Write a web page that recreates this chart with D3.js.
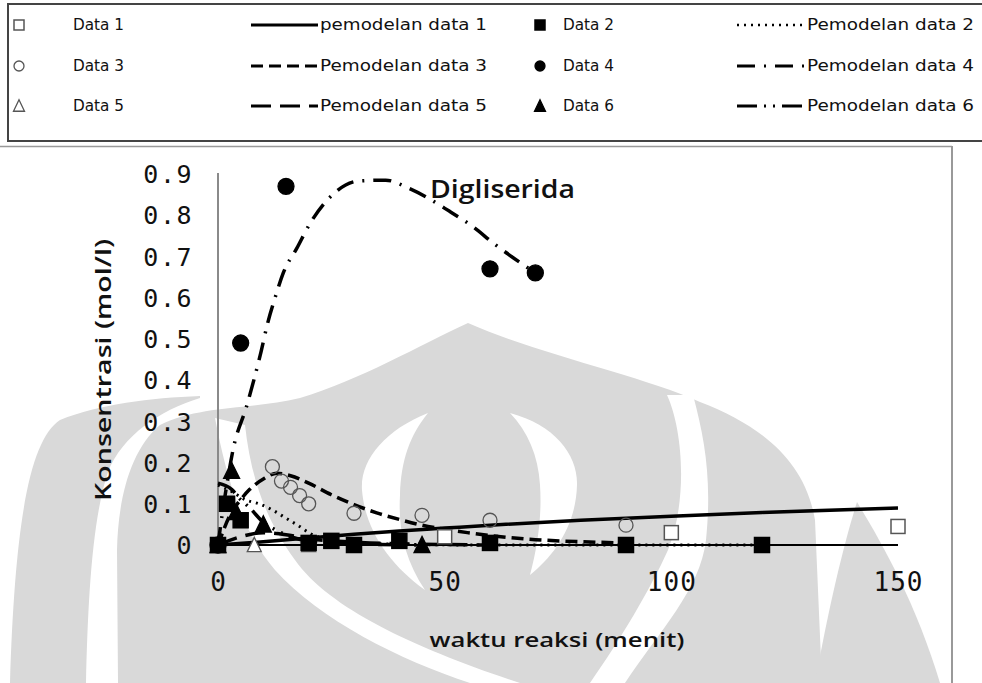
<!DOCTYPE html>
<html><head><meta charset="utf-8">
<script src="https://cdn.jsdelivr.net/npm/d3@7"></script>
<style>
html,body{margin:0;padding:0;background:#fff;}
svg{display:block;}
</style></head>
<body>
<script>
// ---------- DATA ----------
const data1T = [0, 50, 100, 150];
const data1V = [0, 0.02, 0.03, 0.045];
const data2T = [0, 2, 5, 20, 25, 30, 40, 60, 90, 120];
const data2V = [0, 0.1, 0.06, 0.005, 0.01, 0, 0.01, 0.005, 0, 0];
const data3T = [12, 14, 16, 18, 20, 30, 45, 60, 90];
const data3V = [0.19, 0.155, 0.14, 0.12, 0.1, 0.077, 0.072, 0.06, 0.048];
const data4T = [0, 5, 15, 60, 70];
const data4V = [0, 0.49, 0.87, 0.67, 0.66];
const data5T = [0, 8, 20];
const data5V = [0, 0, 0];
const data6T = [0, 3, 4, 10, 45];
const data6V = [0, 0.18, 0.08, 0.05, 0];

const model1T = [0, 10, 20, 30, 40, 50, 60, 80, 100, 120, 150];
const model1V = [0, 0.008, 0.017, 0.026, 0.034, 0.041, 0.048, 0.06, 0.07, 0.079, 0.09];
const model2T = [0, 3, 6, 9, 12, 15, 18, 20, 25, 30, 40, 60, 120];
const model2V = [0.145, 0.13, 0.11, 0.1, 0.085, 0.065, 0.045, 0.03, 0.012, 0.005, 0.002, 0, 0];
const model3T = [0, 3, 5, 7, 10, 13, 16, 20, 25, 30, 35, 40, 45, 50, 55, 60, 70, 80, 90];
const model3V = [0, 0.08, 0.11, 0.135, 0.16, 0.174, 0.168, 0.15, 0.122, 0.098, 0.078, 0.062, 0.048, 0.038, 0.03, 0.023, 0.013, 0.008, 0.005];
const model4T = [0, 1, 2, 3.3, 6.4, 9.3, 11, 12.6, 14.4, 17.4, 20.3, 25, 31, 37, 42, 51, 56, 61, 70];
const model4V = [0, 0.08, 0.15, 0.23, 0.34, 0.46, 0.54, 0.6, 0.66, 0.72, 0.78, 0.847, 0.883, 0.885, 0.866, 0.81, 0.774, 0.73, 0.66];
const model5T = [0, 5, 10, 15, 20, 30, 45, 60];
const model5V = [0, 0.02, 0.03, 0.025, 0.015, 0.007, 0.002, 0];
const model6T = [0, 3, 5, 7, 10, 13, 16, 20, 30, 45];
const model6V = [0.15, 0.135, 0.11, 0.09, 0.055, 0.035, 0.02, 0.01, 0.003, 0];

const xTicks = [0, 50, 100, 150];
const yTicks = [0, 0.1, 0.2, 0.3, 0.4, 0.5, 0.6, 0.7, 0.8, 0.9];
const legendLabels = ["Data 1", "pemodelan data  1", "Data 2", "Pemodelan data  2",
                      "Data 3", "Pemodelan data  3", "Data 4", "Pemodelan data  4",
                      "Data 5", "Pemodelan data  5", "Data 6", "Pemodelan data  6"];
const annotation = "Digliserida";
const xTitle = "waktu reaksi (menit)";
const yTitle = "Konsentrasi (mol/l)";

// ---------- STYLES ----------
const markerStyle = {
  d1: {type: "square", fill: "#fff", stroke: "#555", size: 14},
  d2: {type: "square", fill: "#000", stroke: "#000", size: 15},
  d3: {type: "circle", fill: "none", stroke: "#555", size: 7},
  d4: {type: "circle", fill: "#000", stroke: "#000", size: 8},
  d5: {type: "triangle", fill: "#fff", stroke: "#555", size: 14},
  d6: {type: "triangle", fill: "#000", stroke: "#000", size: 16}
};
const lineStyle = {
  m1: {width: 3.5, dash: null},
  m2: {width: 3, dash: "2,5"},
  m3: {width: 3.5, dash: "12,6"},
  m4: {width: 3.5, dash: "18,9,2,9"},
  m5: {width: 3.5, dash: "20,9"},
  m6: {width: 3.5, dash: "20,7,2,7,2,7"}
};

const W = 982, H = 683;
const svg = d3.select("body").append("svg").attr("width", W).attr("height", H);

// ---------- watermark ----------
const wm = svg.append("g").attr("fill", "#d9d9d9");
wm.append("path").attr("d", "M200,396 C150,398 100,404 60,420 C30,440 15,520 10,683 L86,683 C88,600 92,520 108,472 C122,436 160,410 200,398 Z");
wm.append("path").attr("d", "M118,683 L117,550 C118,500 130,450 160,425 C200,405 250,410 300,398 C360,380 420,345 468,323 C540,355 640,375 700,402 C760,425 805,460 815,520 L822,683 Z");
const wmw = svg.append("g").attr("fill", "#fff");
wmw.append("path").attr("d", "M215,418 C225,470 240,530 275,570 C320,620 400,660 470,683 L520,683 C420,650 330,610 295,560 C262,515 250,470 245,425 Z");
wmw.append("path").attr("d", "M428,413 C385,430 360,460 362,490 C365,530 390,565 425,590 C405,560 398,530 400,495 C401,460 410,435 428,413 Z");
wmw.append("path").attr("d", "M510,413 C555,425 578,455 577,485 C576,525 555,555 530,575 C538,545 542,515 540,485 C538,455 528,432 510,413 Z");
wmw.append("path").attr("d", "M667,395 C683,430 688,500 668,550 C650,590 620,640 590,683 L625,683 C660,630 700,590 706,540 C712,480 705,440 693,395 Z");
wm.append("path").attr("d", "M857,502 C845,540 830,600 815,683 L940,683 C915,600 880,540 857,502 Z");

// ---------- scales ----------
const x = d3.scaleLinear().domain([0, 150]).range([218, 898]);
const y = d3.scaleLinear().domain([0, 0.9]).range([545, 174]);

svg.append("line").attr("x1", 0).attr("x2", 952).attr("y1", 146.5).attr("y2", 146.5).attr("stroke", "#999").attr("stroke-width", 1.5);
svg.append("line").attr("x1", 952).attr("x2", 952).attr("y1", 146).attr("y2", H).attr("stroke", "#999").attr("stroke-width", 2);

const yAxis = d3.axisLeft(y).tickValues(yTicks).tickSize(0).tickPadding(0)
  .tickFormat(d => d === 0 ? "0" : d3.format(".1f")(d));
const gy = svg.append("g").attr("transform", "translate(193,0)").call(yAxis);
gy.select(".domain").remove();
gy.selectAll("text").attr("font-family", "DejaVu Sans Mono").attr("font-size", 25)
  .attr("fill", "#111").attr("letter-spacing", 1.5).attr("dy", "0.35em");

const xAxis = d3.axisBottom(x).tickValues(xTicks).tickSize(0).tickPadding(0).tickFormat(d3.format("d"));
const gx = svg.append("g").attr("transform", "translate(0,582)").call(xAxis);
gx.select(".domain").remove();
gx.selectAll("text").attr("font-family", "DejaVu Sans Mono").attr("font-size", 26)
  .attr("fill", "#111").attr("letter-spacing", 1).attr("dy", "0.35em");

svg.append("line").attr("x1", x(0)).attr("x2", x(0)).attr("y1", y(0.9) - 1).attr("y2", y(0))
  .attr("stroke", "#8a8a8a").attr("stroke-width", 2);

svg.append("text").attr("x", 557).attr("y", 647).attr("text-anchor", "middle")
  .attr("font-family", "Open Sans").attr("font-weight", 600).attr("font-size", 20)
  .attr("fill", "#111").attr("textLength", 255).attr("lengthAdjust", "spacingAndGlyphs").text(xTitle);
svg.append("text").attr("transform", "translate(111,370) rotate(-90)").attr("text-anchor", "middle")
  .attr("font-family", "Open Sans").attr("font-weight", 600).attr("font-size", 21)
  .attr("fill", "#111").attr("textLength", 262).attr("lengthAdjust", "spacingAndGlyphs").text(yTitle);

function drawMarker(g, st, cx, cy) {
  if (st.type === "square") {
    g.append("rect").attr("x", cx - st.size / 2).attr("y", cy - st.size / 2)
      .attr("width", st.size).attr("height", st.size)
      .attr("fill", st.fill).attr("stroke", st.stroke).attr("stroke-width", 1.5);
  } else if (st.type === "circle") {
    g.append("circle").attr("cx", cx).attr("cy", cy).attr("r", st.size)
      .attr("fill", st.fill).attr("stroke", st.stroke).attr("stroke-width", 1.3);
  } else {
    const s = st.size;
    const h = s * 0.95;
    g.append("path").attr("d", `M${cx},${cy - h / 2 - 1} L${cx + s / 2},${cy + h / 2} L${cx - s / 2},${cy + h / 2} Z`)
      .attr("fill", st.fill).attr("stroke", st.stroke).attr("stroke-width", 1.3);
  }
}

const line = d3.line().x(d => x(d[0])).y(d => y(d[1])).curve(d3.curveMonotoneX);
const models = [
  [model1T, model1V, "m1"], [model2T, model2V, "m2"], [model3T, model3V, "m3"],
  [model4T, model4V, "m4"], [model5T, model5V, "m5"], [model6T, model6V, "m6"]
];
const gl = svg.append("g");
models.forEach(([t, v, k]) => {
  const st = lineStyle[k];
  gl.append("path").datum(t.map((d, i) => [d, v[i]])).attr("d", line)
    .attr("fill", "none").attr("stroke", "#000").attr("stroke-width", st.width)
    .attr("stroke-dasharray", st.dash);
});

svg.append("line").attr("x1", x(0)).attr("x2", x(150)).attr("y1", y(0)).attr("y2", y(0))
  .attr("stroke", "#000").attr("stroke-width", 2);

const gm = svg.append("g");
const series = [
  [data5T, data5V, "d5"], [data1T, data1V, "d1"], [data3T, data3V, "d3"],
  [data2T, data2V, "d2"], [data6T, data6V, "d6"], [data4T, data4V, "d4"]
];
series.forEach(([t, v, k]) => {
  t.forEach((d, i) => drawMarker(gm, markerStyle[k], x(d), y(v[i])));
});

svg.append("text").attr("x", 430).attr("y", 198).attr("font-family", "Open Sans")
  .attr("font-weight", 600).attr("font-size", 26).attr("fill", "#111")
  .attr("textLength", 145).attr("lengthAdjust", "spacingAndGlyphs").text(annotation);

const lg = svg.append("g");
lg.append("rect").attr("x", 8).attr("y", 4).attr("width", 1000).attr("height", 137)
  .attr("fill", "#fff").attr("stroke", "#444").attr("stroke-width", 2);
const rowY = [25, 66, 106];
const markerKeys = ["d1", "d2", "d3", "d4", "d5", "d6"];
const lineKeys = ["m1", "m2", "m3", "m4", "m5", "m6"];
legendLabels.forEach((lab, i) => {
  const row = Math.floor(i / 4), col = i % 4;
  const cy = rowY[row];
  const pair = row * 2 + (col >= 2 ? 1 : 0);
  if (col % 2 === 0) {
    const st = Object.assign({}, markerStyle[markerKeys[pair]]);
    st.size = st.type === "circle" ? 5 : (st.type === "square" ? 10 : 11);
    const mx = col >= 2 ? 540 : 19;
    const tx = col >= 2 ? 563 : 73;
    drawMarker(lg, st, mx, cy);
    lg.append("text").attr("x", tx).attr("y", cy).attr("dy", "0.35em")
      .attr("font-family", "DejaVu Sans").attr("font-size", 15).attr("fill", "#111")
      .attr("textLength", 51).attr("lengthAdjust", "spacingAndGlyphs").text(lab);
  } else {
    const lx0 = col >= 2 ? 737 : 251, lx1 = col >= 2 ? 805 : 318;
    const st = lineStyle[lineKeys[pair]];
    lg.append("line").attr("x1", lx0).attr("x2", lx1).attr("y1", cy).attr("y2", cy)
      .attr("stroke", "#000").attr("stroke-width", st.width - 0.5).attr("stroke-dasharray", st.dash);
    lg.append("text").attr("x", lx1 + 2).attr("y", cy).attr("dy", "0.35em")
      .attr("font-family", "DejaVu Sans").attr("font-size", 15).attr("fill", "#111")
      .attr("textLength", 167).attr("lengthAdjust", "spacingAndGlyphs").text(lab);
  }
});
</script>
</body></html>
